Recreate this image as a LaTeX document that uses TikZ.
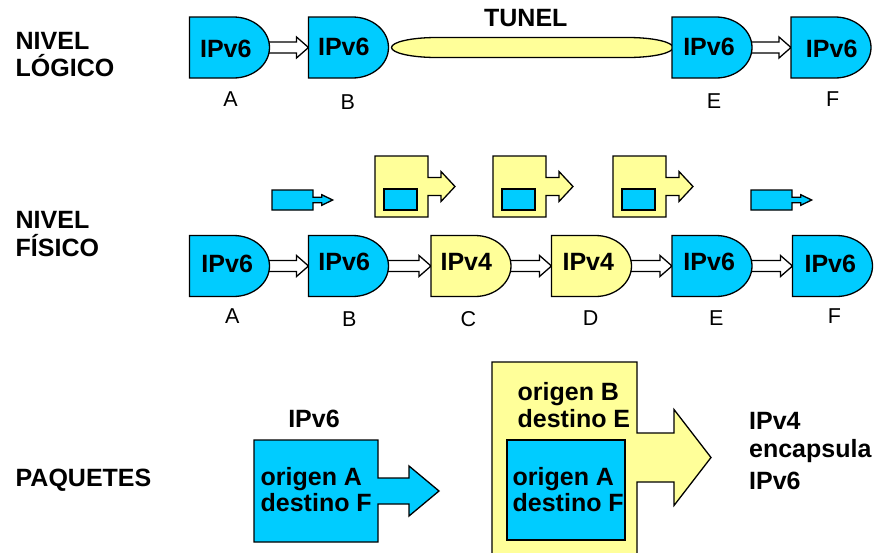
\documentclass[tikz,border=0pt]{standalone}
\usepackage{fontspec}
\setmainfont{Liberation Sans}
\usetikzlibrary{calc}
\definecolor{ipsix}{HTML}{00CCFF}
\definecolor{ipfour}{HTML}{FFFF99}
\newcommand\gateshape[2]{\draw[fill=#2] (#1.north west) -- ([xshift=-36pt]#1.north east) arc[start angle=90,end angle=-90,x radius=36pt,y radius=30.5pt] -- (#1.south west) -- cycle;}
\begin{document}
\begin{tikzpicture}[x=1pt,y=-1pt,line width=1.3pt,
  gatebox/.style={minimum width=80pt,minimum height=61pt,inner sep=0pt,outer sep=0pt},
  btext/.style={font=\fontsize{25}{29}\selectfont\bfseries,inner sep=0pt},
  ltext/.style={font=\fontsize{21.5}{25}\selectfont,inner sep=0pt,anchor=base},
  hollowarrow/.style={draw,fill=white,to path={let \p1=(\tikztostart),\p2=(\tikztotarget) in
    (\x1-4pt,\y1+5.5pt) -- (\x2-12pt,\y1+5.5pt) -- (\x2-12pt,\y1+10.5pt) -- (\x2,\y1) --
    (\x2-12pt,\y1-10.5pt) -- (\x2-12pt,\y1-5.5pt) -- (\x1-4pt,\y1-5.5pt) -- cycle}},
  tunnelpath/.style={draw,fill=ipfour,to path={let \p1=(\tikztostart),\p2=(\tikztotarget) in
    (\x1+48pt,\y1+10pt) -- (\x2-44pt,\y1+10pt)
    arc[start angle=90,end angle=-90,x radius=45pt,y radius=10pt]
    -- (\x1+48pt,\y1-10pt)
    arc[start angle=270,end angle=90,x radius=45pt,y radius=10pt] -- cycle}}
]
\useasboundingbox (0,0) rectangle (876,552);

% ---------- gate boxes (invisible, used as anchors) ----------
\node[gatebox] (gA1) at (229.5,47.5) {};
\node[gatebox] (gB1) at (348.5,47.5) {};
\node[gatebox] (gE1) at (712,47.5) {};
\node[gatebox] (gF1) at (831,47.5) {};
\node[gatebox] (gA2) at (229.5,266) {};
\node[gatebox] (gB2) at (348.5,266) {};
\node[gatebox] (gC2) at (471,266) {};
\node[gatebox] (gD2) at (591.5,266) {};
\node[gatebox] (gE2) at (712,266) {};
\node[gatebox] (gF2) at (832.5,266) {};

% ---------- connectors ----------
\path[hollowarrow] (gA1.east) to (gB1.west);
\path[hollowarrow] (gE1.east) to (gF1.west);
\path[tunnelpath] (gB1.east) to (gE1.west);
\path[hollowarrow] (gA2.east) to (gB2.west);
\path[hollowarrow] (gB2.east) to (gC2.west);
\path[hollowarrow] (gC2.east) to (gD2.west);
\path[hollowarrow] (gD2.east) to (gE2.west);
\path[hollowarrow] (gE2.east) to (gF2.west);

% ---------- gate shapes ----------
\gateshape{gA1}{ipsix}
\gateshape{gB1}{ipsix}
\gateshape{gE1}{ipsix}
\gateshape{gF1}{ipsix}
\gateshape{gA2}{ipsix}
\gateshape{gB2}{ipsix}
\gateshape{gC2}{ipfour}
\gateshape{gD2}{ipfour}
\gateshape{gE2}{ipsix}
\gateshape{gF2}{ipsix}

% ---------- gate texts ----------
\node[btext,anchor=base] (tA1) at (225.8,57.3) {IPv6};
\node[btext,anchor=base] (tB1) at (343.8,55) {IPv6};
\node[btext,anchor=base] (tE1) at (709,55) {IPv6};
\node[btext,anchor=base] (tF1) at (831.7,57.3) {IPv6};
\node[btext,anchor=base] (tA2) at (227.2,272.3) {IPv6};
\node[btext,anchor=base] (tB2) at (344.2,270) {IPv6};
\node[btext,anchor=base] (tC2) at (466.3,270) {IPv4};
\node[btext,anchor=base] (tD2) at (588.3,270) {IPv4};
\node[btext,anchor=base] (tE2) at (709.2,270) {IPv6};
\node[btext,anchor=base] (tF2) at (830.3,272.3) {IPv6};
\node[btext,anchor=base] (tunel) at (525.8,26.7) {TUNEL};

% ---------- letters below gates ----------
\node[ltext] (lA1) at (230.5,106) {A};
\node[ltext] (lB1) at (347.8,109.3) {B};
\node[ltext] (lE1) at (714,108.3) {E};
\node[ltext] (lF1) at (832.8,106) {F};
\node[ltext] (lA2) at (232.2,323.3) {A};
\node[ltext] (lB2) at (349.2,326.7) {B};
\node[ltext] (lC2) at (468.5,326.7) {C};
\node[ltext] (lD2) at (590.7,325) {D};
\node[ltext] (lE2) at (716.3,325) {E};
\node[ltext] (lF2) at (834.5,323.3) {F};

% ---------- left labels ----------
\node[btext,anchor=base west] (n1) at (15,49.3) {NIVEL};
\node[btext,anchor=base west] (n2) at (15,76.7) {LÓGICO};
\node[btext,anchor=base west] (n3) at (15,228.3) {NIVEL};
\node[btext,anchor=base west] (n4) at (15,256.7) {FÍSICO};
\node[btext,anchor=base west] (n5) at (15,486.7) {PAQUETES};

% ---------- small packet icons ----------
\foreach \s in {0,479}{
  \begin{scope}[xshift=\s pt]
  \draw[fill=ipsix] (272,190) -- (313,190) -- (313,197.3) -- (321.7,197.3) -- (321.7,194.7)
    -- (332.7,200) -- (321.7,205.3) -- (321.7,202.7) -- (313,202.7) -- (313,210) -- (272,210) -- cycle;
  \end{scope}}
\foreach \s in {0,118,238}{
  \begin{scope}[xshift=\s pt]
  \draw[fill=ipfour] (375,156) -- (428,156) -- (428,177.5) -- (441,177.5) -- (441,171.5)
    -- (455,186.5) -- (441,201.5) -- (441,195.5) -- (428,195.5) -- (428,217) -- (375,217) -- cycle;
  \draw[fill=ipsix] (384,189) rectangle (417,210);
  \end{scope}}

% ---------- packets ----------
\draw[fill=ipsix] (254,440) -- (378,440) -- (378,478) -- (409,478) -- (409,466) -- (439,491)
  -- (409,516) -- (409,504) -- (378,504) -- (378,542) -- (254,542) -- cycle;
\draw[fill=ipfour] (492,362) -- (637,362) -- (637,433) -- (674,433) -- (674,409.5) -- (711,457.5)
  -- (674,505.5) -- (674,482) -- (637,482) -- (637,562) -- (492,562) -- cycle;
\draw[fill=ipsix] (507,440) rectangle (625,540);

\node[btext,anchor=base] (p6) at (314,427.3) {IPv6};
\node[btext,anchor=base west] (o1) at (260,485) {origen A};
\node[btext,anchor=base west] (d1) at (260,511.7) {destino F};
\node[btext,anchor=base west] (o2) at (517,400) {origen B};
\node[btext,anchor=base west] (d2) at (517,427.3) {destino E};
\node[btext,anchor=base west] (o3) at (512,485) {origen A};
\node[btext,anchor=base west] (d3) at (512,511.7) {destino F};
\node[btext,anchor=base west] (r1) at (748.5,429) {IPv4};
\node[btext,anchor=base west] (r2) at (748.5,457.7) {encapsula};
\node[btext,anchor=base west] (r3) at (748.5,489) {IPv6};
\end{tikzpicture}
\end{document}
